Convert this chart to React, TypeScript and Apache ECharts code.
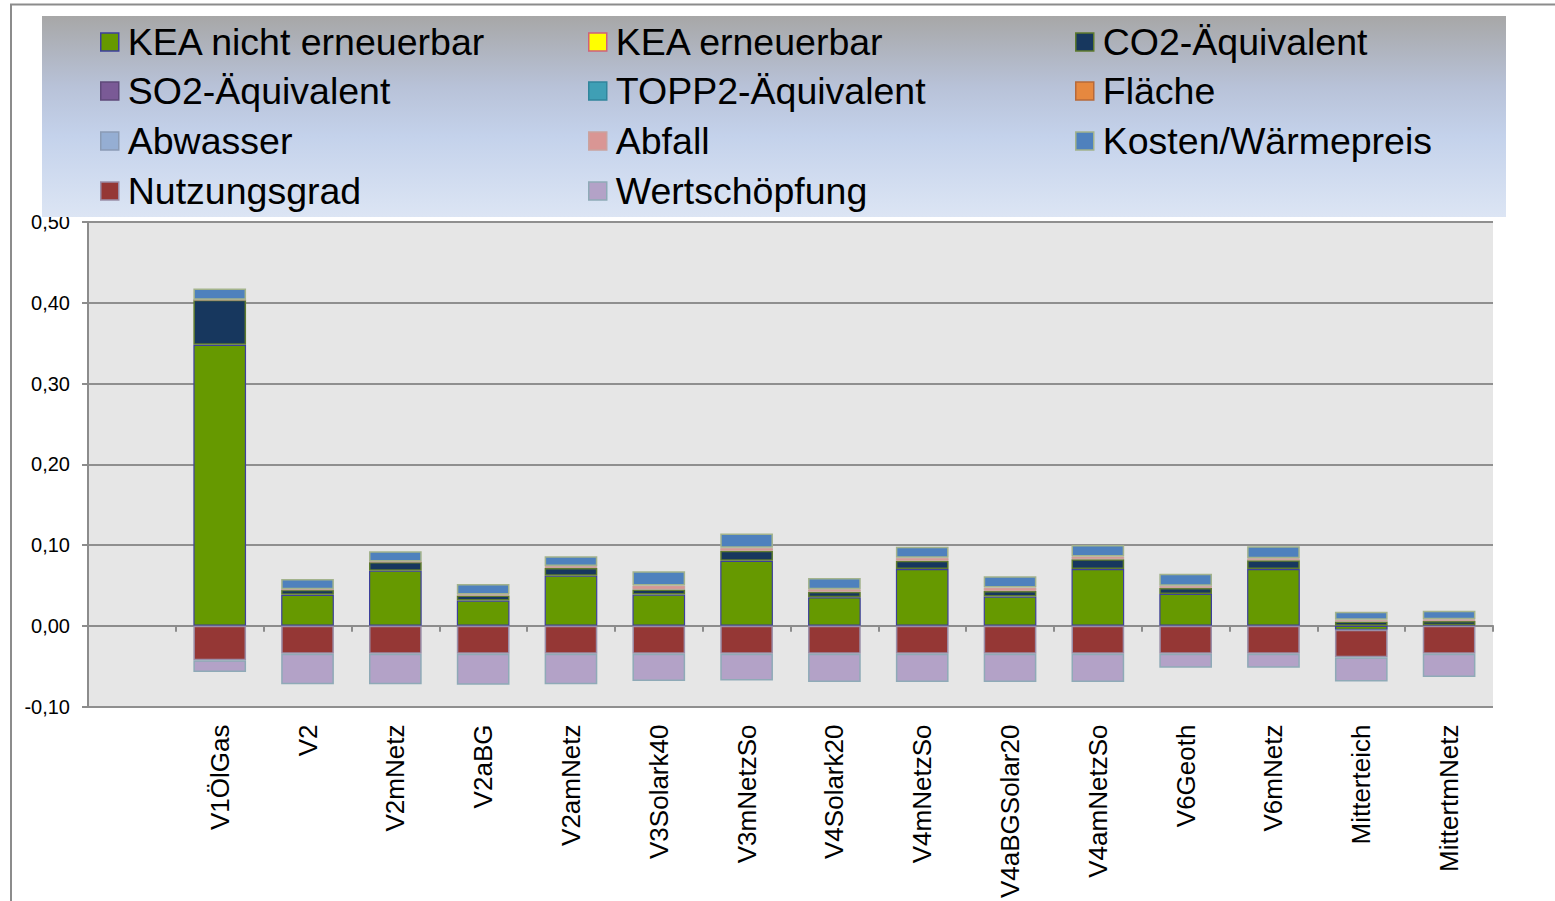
import React, { useEffect, useRef } from "react";
import * as echarts from "echarts";

const categories = [
  "",
  "V1ÖlGas",
  "V2",
  "V2mNetz",
  "V2aBG",
  "V2amNetz",
  "V3Solark40",
  "V3mNetzSo",
  "V4Solark20",
  "V4mNetzSo",
  "V4aBGSolar20",
  "V4amNetzSo",
  "V6Geoth",
  "V6mNetz",
  "Mitterteich",
  "MittertmNetz",
];

const yTicks = [-0.1, 0, 0.1, 0.2, 0.3, 0.4, 0.5];

const keaNicht = [null, 0.348, 0.0383, 0.0683, 0.0312, 0.0621, 0.0386, 0.0806, 0.0354, 0.0704, 0.0362, 0.0704, 0.0395, 0.0704, -0.005, 0.0008];
const keaErneuerbar = [null, 0, 0, 0, 0, 0, 0, 0, 0, 0, 0, 0, 0, 0, 0, 0];
const co2 = [null, 0.0556, 0.0062, 0.0107, 0.0064, 0.0095, 0.0064, 0.0123, 0.0068, 0.0102, 0.0068, 0.012, 0.0072, 0.0107, 0.0053, 0.005];
const so2 = [null, 0, 0, 0, 0, 0, 0, 0, 0, 0, 0, 0, 0, 0, 0, 0];
const topp2 = [null, 0, 0, 0, 0, 0, 0, 0, 0, 0, 0, 0, 0, 0, 0, 0];
const flaeche = [null, 0, 0, 0, 0, 0, 0, 0, 0, 0, 0, 0, 0, 0, 0, 0];
const abwasser = [null, 0, 0, 0, 0, 0, 0, 0, 0, 0, 0, 0, 0, 0, 0, 0];
const abfall = [null, 0, 0.0006, 0.0005, 0.0012, 0.0025, 0.0049, 0.0037, 0.0032, 0.0037, 0.0043, 0.0035, 0.003, 0.0026, 0.0022, 0.0023];
const kosten = [null, 0.0142, 0.013, 0.0128, 0.013, 0.012, 0.0175, 0.0178, 0.0138, 0.0136, 0.0141, 0.0142, 0.0146, 0.0147, 0.0098, 0.0106];
const nutzungsgrad = [null, -0.0428, -0.0346, -0.0346, -0.0346, -0.0346, -0.0346, -0.0346, -0.0346, -0.0346, -0.0346, -0.0346, -0.0346, -0.0346, -0.034, -0.0346];
const wertschoepfung = [null, -0.0143, -0.0378, -0.0378, -0.0383, -0.0378, -0.0337, -0.033, -0.035, -0.035, -0.035, -0.035, -0.0173, -0.0173, -0.03, -0.0288];

const seriesDefs = [
  { name: "KEA nicht erneuerbar", data: keaNicht, color: "#669900", border: "#3d3f9c", bw: 1.2, col: 0, row: 0 },
  { name: "KEA erneuerbar", data: keaErneuerbar, color: "#ffff00", border: "#d0607a", bw: 0, col: 1, row: 0 },
  { name: "CO2-Äquivalent", data: co2, color: "#17375e", border: "#5d7a2e", bw: 1.5, col: 2, row: 0 },
  { name: "SO2-Äquivalent", data: so2, color: "#7a5a96", border: "#5f497a", bw: 0, col: 0, row: 1 },
  { name: "TOPP2-Äquivalent", data: topp2, color: "#3f9fb5", border: "#31859c", bw: 0, col: 1, row: 1 },
  { name: "Fläche", data: flaeche, color: "#e6883f", border: "#b7693a", bw: 0, col: 2, row: 1 },
  { name: "Abwasser", data: abwasser, color: "#95aed3", border: "#8a9bb5", bw: 0, col: 0, row: 2 },
  { name: "Abfall", data: abfall, color: "#d99694", border: "#c9a29f", bw: 1, col: 1, row: 2 },
  { name: "Kosten/Wärmepreis", data: kosten, color: "#4f81bd", border: "#a3b38c", bw: 1.5, col: 2, row: 2 },
  { name: "Nutzungsgrad", data: nutzungsgrad, color: "#953735", border: "#9a8ea8", bw: 1.5, col: 0, row: 3 },
  { name: "Wertschöpfung", data: wertschoepfung, color: "#b3a2c7", border: "#8faab7", bw: 1.5, col: 1, row: 3 },
];

const FONT = "'Liberation Sans', Arial, sans-serif";

function fmt(v: number) {
  const x = Math.abs(v) < 1e-9 ? 0 : v;
  return x.toFixed(2).replace(".", ",");
}

export default function App() {
  const ref = useRef<HTMLDivElement>(null);

  useEffect(() => {
    if (!ref.current) return;
    const chart = echarts.init(ref.current, null, { renderer: "svg" });

    const colLeft = [100, 588, 1075];
    const rowCenter = [42, 91, 141, 191];

    const legends = seriesDefs.map((s) => ({
      data: [s.name],
      left: colLeft[s.col],
      top: rowCenter[s.row] - 20,
      orient: "horizontal",
      padding: 0,
      z: 20,
      icon: "rect",
      itemWidth: 18,
      itemHeight: 18,
      itemStyle: { color: s.color, borderColor: s.border, borderWidth: 1.5 },
      textStyle: {
        fontSize: 37.5,
        lineHeight: 40,
        color: "#000",
        fontFamily: FONT,
        padding: [0, 0, 0, 4],
      },
      selectedMode: false,
    }));

    const option: any = {
      animation: false,
      backgroundColor: "#ffffff",
      textStyle: { fontFamily: FONT },
      graphic: [
        {
          type: "rect",
          shape: { x: 11, y: 4.5, width: 1600, height: 1000 },
          style: { fill: "none", stroke: "#8c8c8c", lineWidth: 2 },
          z: 1,
          silent: true,
        },
        {
          type: "rect",
          shape: { x: 42, y: 16, width: 1464, height: 201 },
          style: {
            fill: new echarts.graphic.LinearGradient(0, 0, 0, 1, [
              { offset: 0, color: "#a7a7a7" },
              { offset: 0.35, color: "#b8c2d8" },
              { offset: 0.6, color: "#c4d2eb" },
              { offset: 1, color: "#dce5f4" },
            ]),
          },
          z: 10,
          silent: true,
        },
      ],
      legend: legends,
      grid: {
        left: 88,
        right: 62,
        top: 222,
        bottom: 192,
        show: true,
        backgroundColor: "#e6e6e6",
        borderWidth: 0,
        containLabel: false,
      },
      xAxis: [
        {
          type: "category",
          data: categories,
          position: "bottom",
          axisLine: { show: false, onZero: false },
          axisTick: { show: false },
          axisLabel: {
            interval: 0,
            rotate: 90,
            fontSize: 26,
            margin: 18,
            color: "#000",
            fontFamily: FONT,
          },
          splitLine: { show: false },
        },
        {
          type: "category",
          data: categories,
          position: "bottom",
          axisLine: { show: true, onZero: true, lineStyle: { color: "#8c8c8c", width: 2 } },
          axisTick: { show: true, inside: false, length: 6, alignWithLabel: false, interval: 0, lineStyle: { color: "#8c8c8c", width: 2 } },
          axisLabel: { show: false },
          splitLine: { show: false },
        },
      ],
      yAxis: {
        type: "value",
        min: yTicks[0],
        max: yTicks[yTicks.length - 1],
        interval: 0.1,
        axisLine: { show: true, lineStyle: { color: "#8c8c8c", width: 2 } },
        axisTick: { show: true, inside: false, length: 6, lineStyle: { color: "#8c8c8c", width: 2 } },
        axisLabel: {
          formatter: (v: number) => fmt(v),
          fontSize: 20,
          margin: 18,
          color: "#000",
          fontFamily: FONT,
        },
        splitLine: { show: true, lineStyle: { color: "#8f8f8f", width: 2 } },
      },
      series: seriesDefs.map((s) => ({
        name: s.name,
        type: "bar",
        stack: "total",
        xAxisIndex: 0,
        data: s.data,
        barCategoryGap: "40%",
        itemStyle: { color: s.color, borderColor: s.border, borderWidth: s.bw },
        emphasis: { disabled: true },
      })),
    };

    chart.setOption(option);
    return () => chart.dispose();
  }, []);

  return (
    <div
      ref={ref}
      style={{ position: "fixed", left: 0, top: 0, width: 1555, height: 901 }}
    />
  );
}
